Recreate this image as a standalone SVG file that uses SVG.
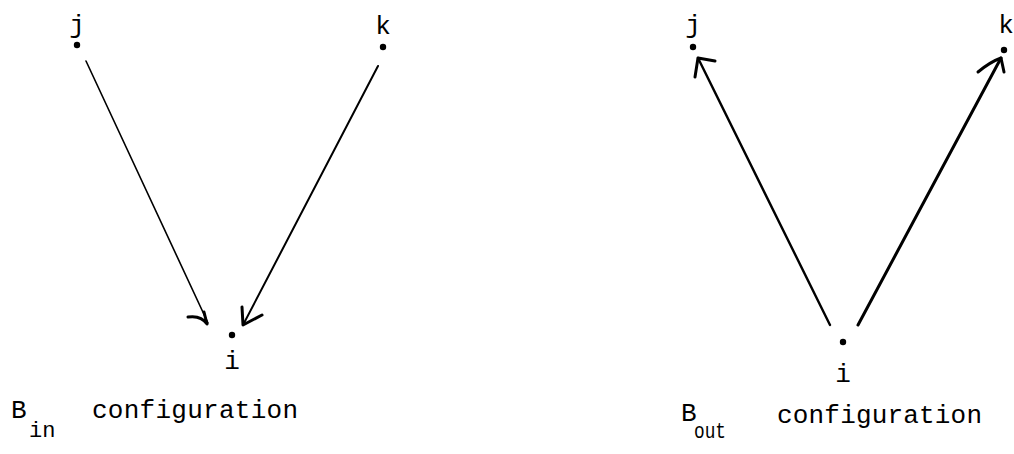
<svg xmlns="http://www.w3.org/2000/svg" width="1014" height="454" viewBox="0 0 1014 454">
<style>
.t{font-family:"Liberation Mono","DejaVu Sans Mono",monospace;font-size:26px;fill:#000}
.s{font-family:"Liberation Mono","DejaVu Sans Mono",monospace;font-size:22px;fill:#000}
.e{fill:none;stroke:#000;stroke-linecap:round;stroke-linejoin:round}
.h{fill:none;stroke:#000;stroke-width:3;stroke-linecap:round;stroke-linejoin:round}
.d{fill:#000}
</style>
<rect width="1014" height="454" fill="#fff"/>
<g id="connectors">
  <path class="e" stroke-width="1.6" d="M86,61 L208,323"/>
  <path class="h" d="M188,317 Q201,315 207,324 L204,312"/>
  <path class="e" stroke-width="2" d="M378,66 L243,325"/>
  <path class="h" d="M242,307 L243,325 L262,315"/>
  <path class="e" stroke-width="2.4" d="M830,325 L698,58"/>
  <path class="h" d="M715,61 L698,58 L695,77"/>
  <path class="e" stroke-width="3" d="M858,325 L1001,58"/>
  <path class="h" d="M978,72 Q990,62 1001,58 L1004,72"/>
</g>
<g id="node-j-in">
  <circle class="d" cx="77" cy="45" r="3.2"/>
  <text class="t" x="77" y="33" text-anchor="middle">j</text>
</g>
<g id="node-k-in">
  <circle class="d" cx="383" cy="47" r="3.2"/>
  <text class="t" x="383" y="34" text-anchor="middle">k</text>
</g>
<g id="node-i-in">
  <circle class="d" cx="232" cy="335" r="3.2"/>
  <text class="t" x="232" y="369" text-anchor="middle">i</text>
</g>
<g id="node-j-out">
  <circle class="d" cx="693" cy="47" r="3.2"/>
  <text class="t" x="693" y="33" text-anchor="middle">j</text>
</g>
<g id="node-k-out">
  <circle class="d" cx="1004" cy="50" r="3.2"/>
  <text class="t" x="1006" y="33" text-anchor="middle">k</text>
</g>
<g id="node-i-out">
  <circle class="d" cx="843" cy="342" r="3.2"/>
  <text class="t" x="843" y="382" text-anchor="middle">i</text>
</g>
<g id="label-in">
  <text class="t" x="11" y="418">B</text>
  <text class="s" x="29" y="437">in</text>
  <text class="t" x="92" y="418" textLength="206" lengthAdjust="spacing">configuration</text>
</g>
<g id="label-out">
  <text class="t" x="681" y="421">B</text>
  <text class="s" x="694" y="438" textLength="32" lengthAdjust="spacingAndGlyphs">out</text>
  <text class="t" x="777" y="423" textLength="205" lengthAdjust="spacing">configuration</text>
</g>
</svg>
